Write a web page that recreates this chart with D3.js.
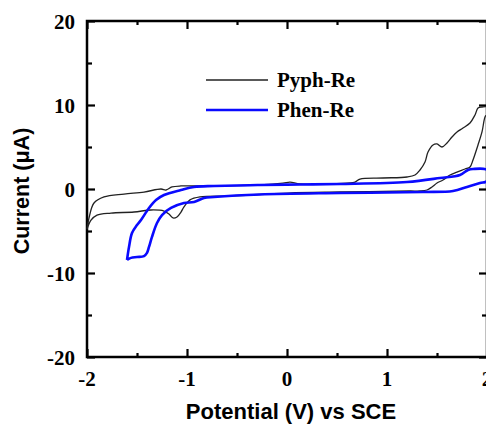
<!DOCTYPE html>
<html>
<head>
<meta charset="utf-8">
<script src="https://cdn.jsdelivr.net/npm/d3@7"></script>
<style>
html,body{margin:0;padding:0;background:#fff;}
svg{display:block;}
</style>
</head>
<body>
<svg id="chart" width="486" height="424"></svg>
<script>
// ---- data ----
const seriesNames = ["Pyph-Re", "Phen-Re"];
const seriesColors = ["#222222", "#0a0aff"];
const xTicks = [-2, -1, 0, 1, 2];
const yTicks = [-20, -10, 0, 10, 20];

const pyphPotential = [-2.0,-1.98,-1.93,-1.83,-1.63,-1.43,-1.26,-1.21,-1.15,-1.06,-0.93,-0.73,-0.27,-0.04,0.03,0.13,0.5,0.68,0.73,0.96,1.2,1.28,1.33,1.38,1.41,1.46,1.5,1.55,1.6,1.65,1.7,1.76,1.83,1.88,1.91,1.95,2.0,
  2.0,1.98,1.95,1.91,1.86,1.83,1.78,1.7,1.63,1.56,1.5,1.45,1.4,1.33,1.23,0.53,0.01,-0.57,-0.87,-0.97,-1.03,-1.06,-1.1,-1.14,-1.18,-1.23,-1.36,-1.53,-1.76,-1.9,-1.96,-2.0];
const pyphCurrent = [-4.8,-3.45,-1.67,-0.95,-0.6,-0.36,0.0,-0.12,0.24,0.36,0.36,0.36,0.48,0.7,0.83,0.6,0.65,0.83,1.19,1.31,1.43,1.67,2.26,3.21,4.4,5.24,5.36,5.0,5.48,6.19,6.79,7.26,7.86,8.81,9.64,9.76,9.76,
  8.9,8.57,6.79,5.24,3.45,2.62,2.38,2.02,1.67,1.07,0.71,0.24,-0.12,-0.24,-0.24,-0.36,-0.48,-0.83,-0.95,-1.3,-2.14,-2.74,-3.33,-3.45,-2.98,-2.62,-2.5,-2.74,-2.86,-3.1,-3.7,-4.8];

const phenPotential = [-1.6,-1.58,-1.55,-1.5,-1.46,-1.38,-1.31,-1.23,-1.06,-0.93,-0.73,-0.27,0.13,0.53,1.2,1.53,1.73,1.81,1.86,2.0,
  2.0,1.93,1.8,1.66,1.36,0.53,-0.27,-0.73,-0.83,-0.93,-1.03,-1.16,-1.25,-1.3,-1.35,-1.38,-1.4,-1.43,-1.5,-1.56,-1.6];
const phenCurrent = [-8.45,-6.9,-5.24,-4.3,-3.7,-2.26,-1.31,-0.71,-0.12,0.24,0.36,0.48,0.54,0.6,0.83,1.31,1.67,2.26,2.38,2.26,
  0.95,0.71,0.24,-0.24,-0.36,-0.48,-0.65,-0.95,-1.07,-1.55,-1.67,-2.26,-3.1,-4.05,-5.7,-6.9,-7.6,-7.98,-8.1,-8.2,-8.45];

// ---- layout ----
const svg = d3.select("#chart");
const x = d3.scaleLinear().domain([-2, 2]).range([87, 487]);
const y = d3.scaleLinear().domain([-20, 20]).range([357, 21]);

const serif = "'Liberation Serif','Times New Roman',serif";
const sans = "'Liberation Sans',Arial,sans-serif";

function styleAxis(g){
  g.select(".domain").remove();
  g.selectAll("line").attr("stroke","#000").attr("stroke-width",2.2);
}
const xMinor = d3.range(-2, 2.01, 0.5).filter(v=>Math.abs(v%1)>0.01);
const yMinor = d3.range(-20, 20.01, 5).filter(v=>v%10!==0);

function addAxis(axisGen, transform, values, size){
  svg.append("g").attr("transform", transform)
    .call(axisGen.tickValues(values).tickSize(size).tickFormat(""))
    .call(styleAxis);
}
addAxis(d3.axisTop(x), `translate(0,${y(-20)})`, xMinor, 4);
addAxis(d3.axisTop(x), `translate(0,${y(-20)})`, xTicks, 8);
addAxis(d3.axisBottom(x), `translate(0,${y(20)})`, xMinor, 4);
addAxis(d3.axisBottom(x), `translate(0,${y(20)})`, xTicks, 8);
addAxis(d3.axisRight(y), `translate(${x(-2)},0)`, yMinor, 5);
addAxis(d3.axisRight(y), `translate(${x(-2)},0)`, yTicks, 8);
addAxis(d3.axisLeft(y), `translate(${x(2)},0)`, yMinor, 5);
addAxis(d3.axisLeft(y), `translate(${x(2)},0)`, yTicks, 8);

// frame
svg.append("rect")
  .attr("x", x(-2)).attr("y", y(20))
  .attr("width", x(2)-x(-2)).attr("height", y(-20)-y(20))
  .attr("fill","none").attr("stroke","#000").attr("stroke-width",2.5);

// tick labels
svg.append("g").selectAll("text").data(xTicks).join("text")
  .attr("x", d=>x(d)).attr("y", 386)
  .attr("text-anchor","middle")
  .attr("font-family", serif).attr("font-weight","bold").attr("font-size",21)
  .text(d=>d);
svg.append("g").selectAll("text").data(yTicks).join("text")
  .attr("x", 75).attr("y", d=>y(d)+7.5)
  .attr("text-anchor","end")
  .attr("font-family", serif).attr("font-weight","bold").attr("font-size",21)
  .text(d=>d);

// axis titles
svg.append("text").attr("x", 291).attr("y", 419)
  .attr("text-anchor","middle")
  .attr("font-family", sans).attr("font-weight","bold").attr("font-size",22)
  .text("Potential (V) vs SCE");
svg.append("text")
  .attr("transform","translate(29,191) rotate(-90)")
  .attr("text-anchor","middle")
  .attr("font-family", sans).attr("font-weight","bold").attr("font-size",21.5)
  .text("Current (\u03bcA)");

// curves
const line = d3.line().x(d=>x(d[0])).y(d=>y(d[1])).curve(d3.curveCatmullRom.alpha(0.5));
const pyph = pyphPotential.map((v,i)=>[v, pyphCurrent[i]]);
const phen = phenPotential.map((v,i)=>[v, phenCurrent[i]]);

svg.append("path").datum(pyph).attr("d", line)
  .attr("fill","none").attr("stroke", seriesColors[0]).attr("stroke-width",1.3).attr("stroke-linejoin","round");
svg.append("path").datum(phen).attr("d", line)
  .attr("fill","none").attr("stroke", seriesColors[1]).attr("stroke-width",2.6).attr("stroke-linejoin","round");

// legend
const legY = [80, 110];
const leg = svg.append("g");
seriesNames.forEach((name,i)=>{
  leg.append("line").attr("x1",206).attr("x2",268).attr("y1",legY[i]).attr("y2",legY[i])
    .attr("stroke",seriesColors[i]).attr("stroke-width", i===0?1.4:2.6);
  leg.append("text").attr("x",277).attr("y",legY[i]+6.5)
    .attr("font-family", serif).attr("font-weight","bold").attr("font-size",21)
    .text(name);
});
</script>
</body>
</html>
